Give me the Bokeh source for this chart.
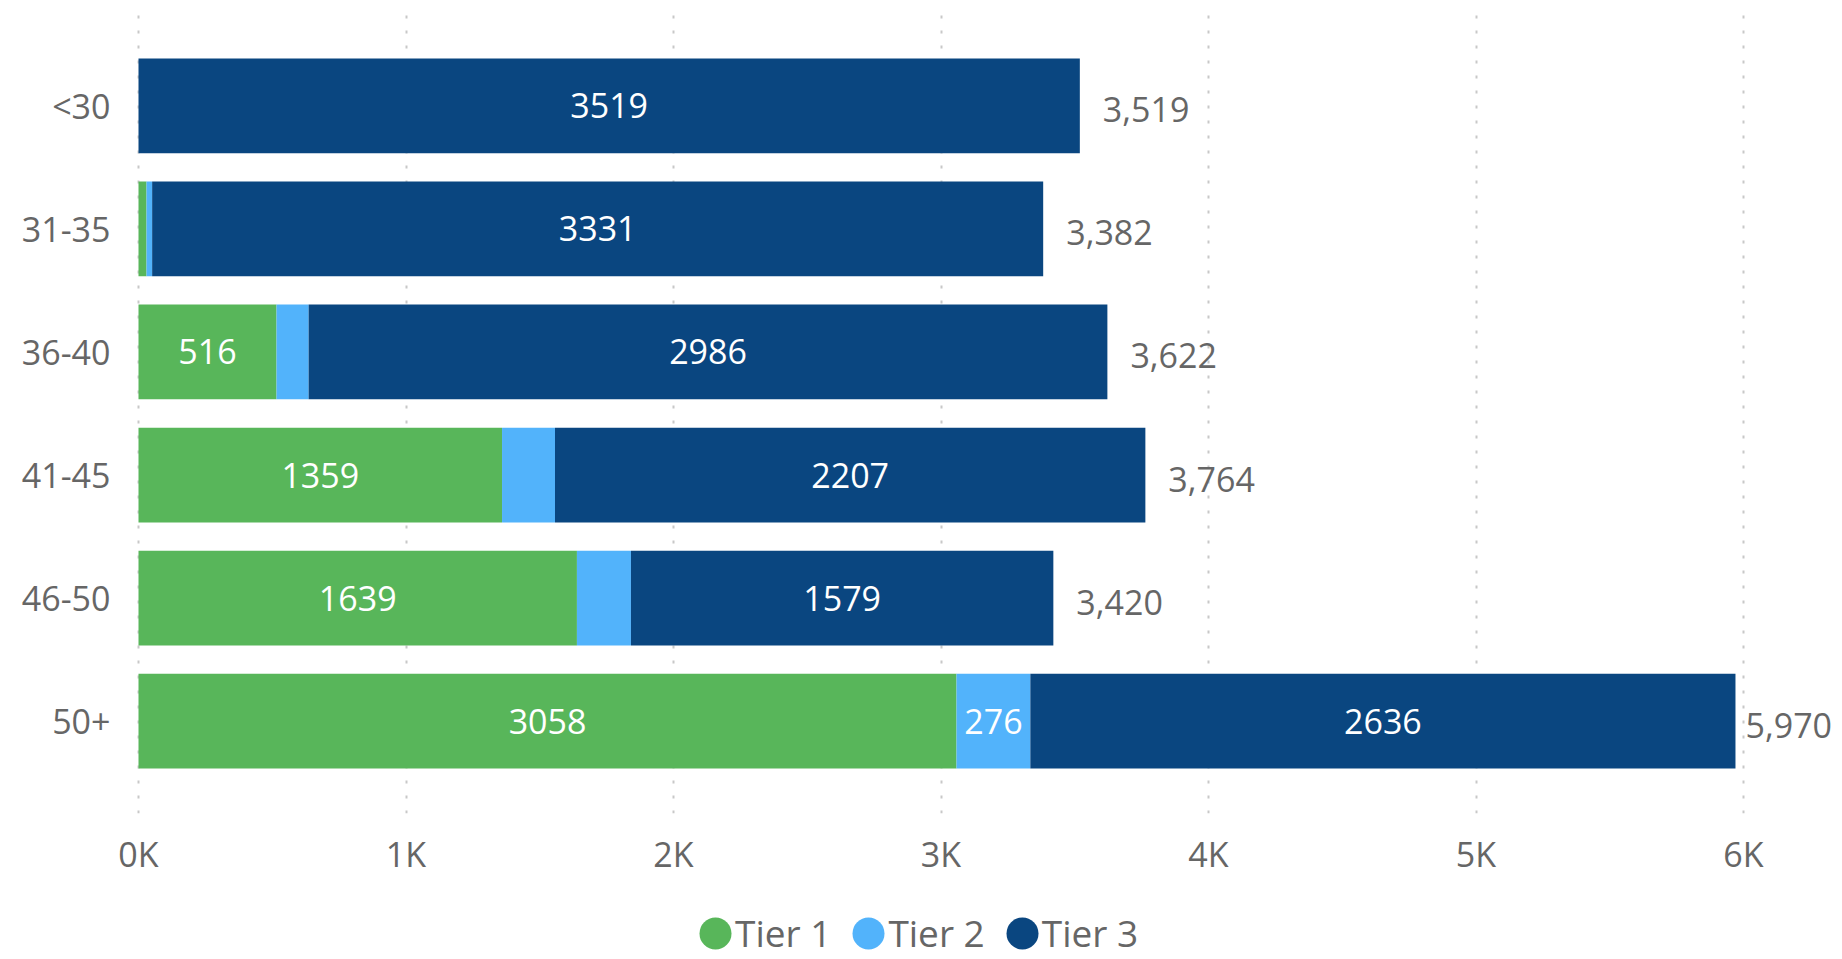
from bokeh.plotting import figure
from bokeh.layouts import column
from bokeh.models import ColumnDataSource, FactorRange, Range1d, FixedTicker, Legend, LegendItem
from bokeh.embed import file_html
from bokeh.resources import INLINE
from bokeh.core.properties import value

# ---- data ----
age_groups = ["<30", "31-35", "36-40", "41-45", "46-50", "50+"]
tier1 = [0, 30, 516, 1359, 1639, 3058]
tier2 = [0, 21, 120, 198, 202, 276]
tier3 = [3519, 3331, 2986, 2207, 1579, 2636]
tiers = ["Tier 1", "Tier 2", "Tier 3"]
colors = ["#58B65A", "#52B3FB", "#0A4680"]
x_ticks = [0, 1000, 2000, 3000, 4000, 5000, 6000]
x_tick_labels = ["0K", "1K", "2K", "3K", "4K", "5K", "6K"]

FONT = "Open Sans"
GREY = "#666666"

source = ColumnDataSource({"age": age_groups, "Tier 1": tier1, "Tier 2": tier2, "Tier 3": tier3})

# segment labels (only where the segment is wide enough)
seg_x, seg_y, seg_t = [], [], []
for i, g in enumerate(age_groups):
    start = 0
    for vals in (tier1, tier2, tier3):
        v = vals[i]
        if v >= 250:
            seg_x.append(start + v / 2)
            seg_y.append(g)
            seg_t.append(str(v))
        start += v
seg_src = ColumnDataSource({"x": seg_x, "y": seg_y, "t": seg_t})

totals = [a + b + c for a, b, c in zip(tier1, tier2, tier3)]
tot_off = [10 if t > 5500 else 23 for t in totals]
tot_src = ColumnDataSource({"x": totals, "y": age_groups, "t": [f"{t:,}" for t in totals], "off": tot_off})

W = 1842
H_MAIN = 885
H_LEG = 74
ZERO_PX = 138
left, right, top = ZERO_PX - 2, 4, 13
bottom = H_MAIN - 813
px_per_unit = (1743 - ZERO_PX) / 6000.0
x_start = -2 / px_per_unit
x_end = x_start + (W - left - right) / px_per_unit

p = figure(
    width=W, height=H_MAIN,
    y_range=FactorRange(factors=list(reversed(age_groups)), range_padding=0.25, range_padding_units="absolute"),
    x_range=Range1d(x_start, x_end),
    output_backend="svg", toolbar_location=None,
    min_border_left=left, min_border_right=right, min_border_top=top, min_border_bottom=bottom,
)
p.outline_line_color = None
p.background_fill_color = "white"
p.border_fill_color = "white"

p.hbar_stack(tiers, y="age", height=0.77, color=colors, line_color=None, source=source)

p.text(x="x", y="y", text="t", source=seg_src, text_color="white",
       text_font=value(FONT), text_font_size="34px", text_align="center", text_baseline="middle")
p.text(x="x", y="y", text="t", source=tot_src, text_color=GREY, x_offset="off", y_offset=4,
       text_font=value(FONT), text_font_size="34px", text_align="left", text_baseline="middle")

# axes
p.xaxis.ticker = FixedTicker(ticks=x_ticks)
p.xaxis.major_label_overrides = {t: l for t, l in zip(x_ticks, x_tick_labels)}
for ax in (p.xaxis, p.yaxis):
    ax.axis_line_color = None
    ax.major_tick_line_color = None
    ax.minor_tick_line_color = None
    ax.major_tick_out = 0
    ax.major_tick_in = 0
    ax.major_label_text_font = FONT
    ax.major_label_text_font_size = "34px"
    ax.major_label_text_color = GREY
p.xaxis.major_label_standoff = 17
p.yaxis.major_label_standoff = 26

p.ygrid.grid_line_color = None
p.xgrid.ticker = FixedTicker(ticks=x_ticks)
p.xgrid.grid_line_color = "#c8c8c8"
p.xgrid.grid_line_dash = "3 12"
p.xgrid.grid_line_width = 2

# legend in its own strip below the chart
nan = float("nan")
pl = figure(width=W, height=H_LEG, x_range=Range1d(0, 1), y_range=Range1d(0, 1),
            x_axis_location=None, y_axis_location=None,
            output_backend="svg", toolbar_location=None,
            min_border=0, min_border_left=0, min_border_right=0, min_border_top=0, min_border_bottom=0)
pl.outline_line_color = None
pl.grid.grid_line_color = None
legend_items = []
for t, c in zip(tiers, colors):
    r = pl.ellipse(x=[nan], y=[nan], width=32, height=32, width_units="screen", height_units="screen",
                   fill_color=c, line_color=None)
    legend_items.append(LegendItem(label=t, renderers=[r]))
legend = Legend(items=legend_items, location=(695 - left, 1), orientation="horizontal",
                glyph_width=40, glyph_height=40, label_standoff=0, spacing=17,
                padding=0, margin=0, border_line_color=None, background_fill_alpha=0,
                label_text_font=FONT, label_text_font_size="37px", label_text_color=GREY)
pl.add_layout(legend)

open("out.html", "w").write(file_html(column(p, pl), INLINE))
